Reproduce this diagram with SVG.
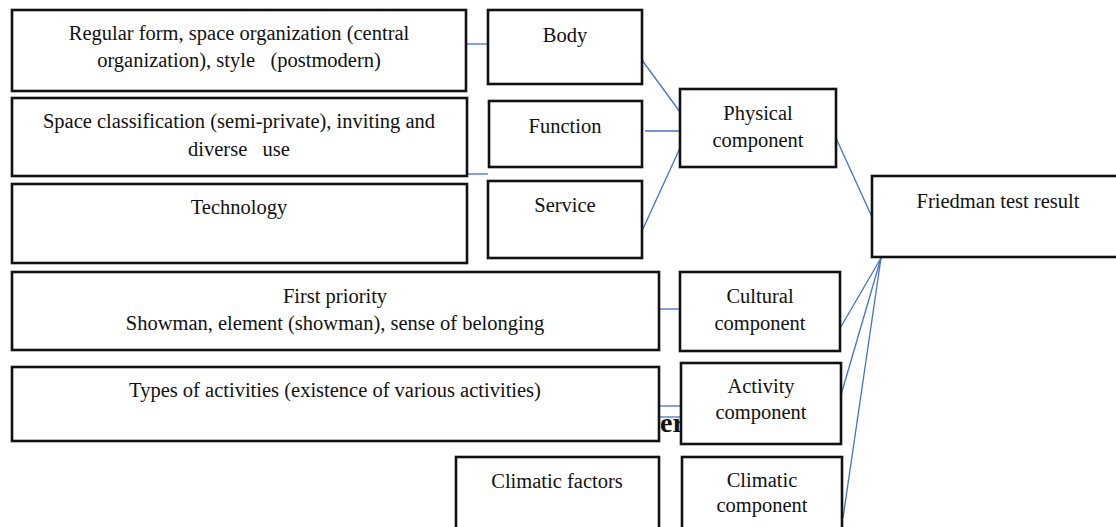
<svg xmlns="http://www.w3.org/2000/svg" width="1116" height="527" viewBox="0 0 1116 527">
<style>
.box{fill:#fff;stroke:#111;stroke-width:2.6}
.t{font-family:"Liberation Serif","Times New Roman",serif;font-size:20.5px;fill:#111;text-anchor:middle}
.c{stroke:#4472C4;stroke-width:1.3;fill:none}
</style>
<rect width="1116" height="527" fill="#fff"/>
<g id="connectors">
<line class="c" x1="459" y1="44" x2="488" y2="44"/>
<line class="c" x1="461" y1="174" x2="488" y2="174"/>
<line class="c" x1="642" y1="60" x2="680" y2="112"/>
<line class="c" x1="645" y1="131" x2="680" y2="131"/>
<line class="c" x1="642" y1="231" x2="680" y2="148"/>
<line class="c" x1="836" y1="138" x2="872" y2="217"/>
<line class="c" x1="659" y1="309" x2="680" y2="309"/>
<line class="c" x1="659" y1="406" x2="681" y2="406"/>
<line class="c" x1="659" y1="417" x2="681" y2="417"/>
<line class="c" x1="881" y1="258" x2="839" y2="330"/>
<line class="c" x1="881" y1="258" x2="841" y2="395"/>
<line class="c" x1="881" y1="258" x2="843" y2="518"/>
</g>
<text x="660" y="432" font-family="Liberation Serif,serif" font-weight="bold" font-size="28" fill="#111">er</text>
<g id="n-regular"><rect class="box" x="12" y="10" width="454" height="81"/><text class="t" x="239" y="40">Regular form, space organization (central</text><text class="t" x="239" y="67" xml:space="preserve">organization), style   (postmodern)</text></g>
<g id="n-space"><rect class="box" x="12" y="98" width="455" height="78"/><text class="t" x="239" y="128">Space classification (semi-private), inviting and</text><text class="t" x="239" y="156" xml:space="preserve">diverse   use</text></g>
<g id="n-technology"><rect class="box" x="12" y="184" width="455" height="79"/><text class="t" x="239" y="214">Technology</text></g>
<g id="n-body"><rect class="box" x="488" y="10" width="154" height="74"/><text class="t" x="565" y="42">Body</text></g>
<g id="n-function"><rect class="box" x="489" y="101" width="153" height="66"/><text class="t" x="565" y="133">Function</text></g>
<g id="n-service"><rect class="box" x="488" y="181" width="154" height="77"/><text class="t" x="565" y="212">Service</text></g>
<g id="n-physical"><rect class="box" x="680" y="89" width="156" height="78"/><text class="t" x="758" y="120">Physical</text><text class="t" x="758" y="147">component</text></g>
<g id="n-friedman"><rect class="box" x="872" y="176" width="252" height="81"/><text class="t" x="998" y="208">Friedman test result</text></g>
<g id="n-first"><rect class="box" x="12" y="272" width="647" height="78"/><text class="t" x="335" y="303">First priority</text><text class="t" x="335" y="330">Showman, element (showman), sense of belonging</text></g>
<g id="n-cultural"><rect class="box" x="680" y="272" width="160" height="79"/><text class="t" x="760" y="303">Cultural</text><text class="t" x="760" y="330">component</text></g>
<g id="n-types"><rect class="box" x="12" y="367" width="647" height="74"/><text class="t" x="335" y="397">Types of activities (existence of various activities)</text></g>
<g id="n-activity"><rect class="box" x="681" y="363" width="160" height="81"/><text class="t" x="761" y="393">Activity</text><text class="t" x="761" y="419">component</text></g>
<g id="n-climfactors"><rect class="box" x="456" y="457" width="203" height="80"/><text class="t" x="557" y="488">Climatic factors</text></g>
<g id="n-climatic"><rect class="box" x="682" y="457" width="160" height="80"/><text class="t" x="762" y="487">Climatic</text><text class="t" x="762" y="512">component</text></g>
</svg>
